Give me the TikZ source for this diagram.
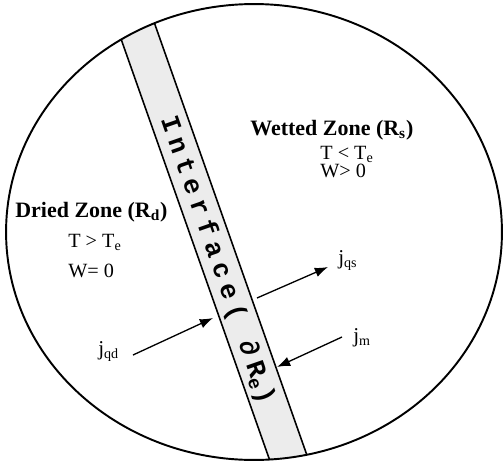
\documentclass[tikz,border=0pt]{standalone}
\usepackage{fontspec}
\setmainfont{Liberation Serif}
\newfontfamily\ifacefont[LetterSpace=24]{Liberation Mono}
\usetikzlibrary{arrows.meta}
\tikzset{
  zonelabel/.style={font=\fontsize{12.5pt}{15pt}\selectfont\bfseries, inner sep=0pt, anchor=base west},
  condlabel/.style={font=\fontsize{11.5pt}{13pt}\selectfont, inner sep=0pt, anchor=base west},
  fluxlabel/.style={font=\fontsize{12pt}{14pt}\selectfont, inner sep=0pt, anchor=base west},
  fluxarrow/.style={line width=0.75pt, -{Latex[length=7.5pt,width=5.5pt]}},
  bandline/.style={line width=0.9pt},
}
\begin{document}
\begin{tikzpicture}[x=0.02cm,y=-0.02cm]
\useasboundingbox (0,0) rectangle (503,463);
% band (interface)
\begin{scope}
  \clip (254,232) ellipse [x radius=4.96cm, y radius=4.56cm];
  \fill[gray!15] (103.75,-10) -- (142.75,-10) -- (315.7,480) -- (276.7,480) -- cycle;
  \draw[bandline] (103.75,-10) -- (276.7,480);
  \draw[bandline] (142.75,-10) -- (315.7,480);
\end{scope}
\draw[line width=1.1pt] (254,232) ellipse [x radius=4.96cm, y radius=4.56cm];
% interface text
\node[rotate=-70.8, inner sep=0pt, font=\fontsize{15pt}{17pt}\ifacefont\bfseries] (iface) at (217,260) {Interface( ∂R\textsubscript{e})};
% zone labels
\node[zonelabel] (wet) at (250,135) {Wetted Zone (R\textsubscript{s})};
\node[condlabel] (wetT) at (320,159) {T < T\textsubscript{e}};
\node[condlabel] (wetW) at (320,177) {W> 0};
\node[zonelabel] (dry) at (15,217) {Dried Zone (R\textsubscript{d})};
\node[condlabel] (dryT) at (68,247) {T > T\textsubscript{e}};
\node[condlabel] (dryW) at (68,277) {W= 0};
% flux labels
\node[fluxlabel] (jqs) at (338,264) {j\textsubscript{qs}};
\node[fluxlabel] (jm) at (353,342) {j\textsubscript{m}};
\node[fluxlabel] (jqd) at (98,355) {j\textsubscript{qd}};
% arrows
\coordinate (qsA) at (257,298);
\coordinate (qsB) at (328,267);
\coordinate (qdA) at (133,355);
\coordinate (qdB) at (213,318);
\coordinate (mA) at (342,337);
\coordinate (mB) at (277,367);
\draw[fluxarrow] (qsA) -- (qsB);
\draw[fluxarrow] (qdA) -- (qdB);
\draw[fluxarrow] (mA) -- (mB);
\end{tikzpicture}
\end{document}
